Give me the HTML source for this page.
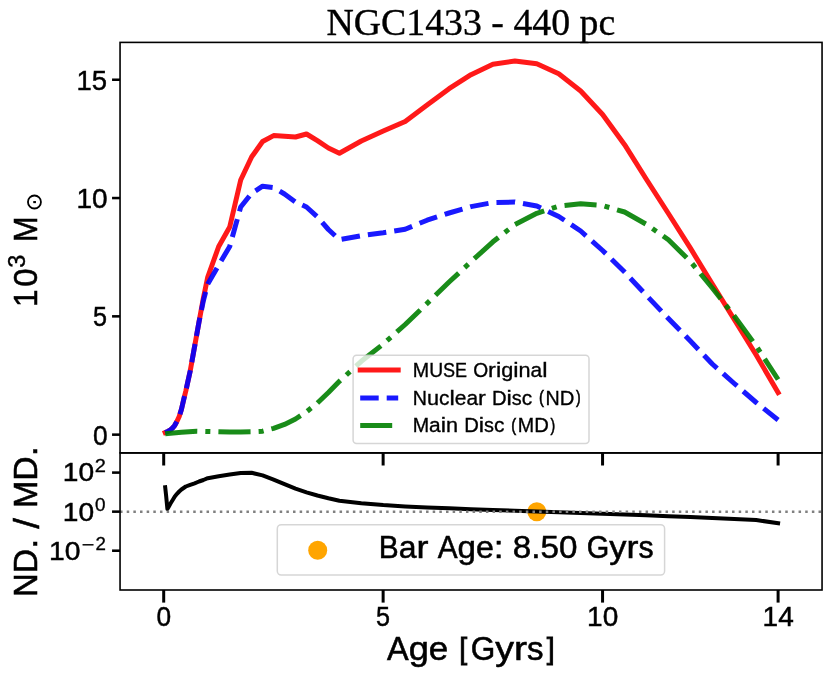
<!DOCTYPE html>
<html lang="en">
<head>
<meta charset="utf-8">
<title>NGC1433 - 440 pc</title>
<style>
html,body{margin:0;padding:0;background:#fff;}
body{width:831px;height:676px;overflow:hidden;font-family:"Liberation Sans",sans-serif;}
svg{display:block;will-change:transform;}
text{fill:#000;}
</style>
</head>
<body>
<svg width="831" height="676" viewBox="0 0 831 676">
<rect x="0" y="0" width="831" height="676" fill="#fff"/>
<defs><clipPath id="cT"><rect x="120.05" y="42.4" width="702.0" height="410.5"/></clipPath><clipPath id="cB"><rect x="120.05" y="452.9" width="702.0" height="137.1"/></clipPath></defs>
<g clip-path="url(#cT)" fill="none" stroke-width="5" stroke-linejoin="round">
<polyline points="165.20,432.50 168.30,431.20 170.50,429.80 172.70,427.80 174.80,425.30 177.00,421.30 179.20,416.50 181.40,409.50 183.60,400.00 185.80,391.00 190.20,371.00 194.60,346.50 199.00,322.00 203.40,298.00 207.75,277.00 218.70,246.50 229.70,227.00 240.70,180.00 251.60,157.00 262.60,141.50 273.60,135.60 284.50,136.30 295.50,137.00 306.50,134.00 317.40,140.70 328.40,148.00 339.40,153.20 361.30,141.00 383.25,131.00 405.20,121.50 427.10,105.00 449.10,88.70 471.00,74.70 492.90,64.20 514.90,61.00 536.80,63.80 558.75,73.80 580.70,91.00 602.60,114.50 624.60,144.70 646.50,179.50 668.40,213.50 690.40,248.20 712.30,284.00 734.25,319.50 756.20,355.00 778.10,392.50" stroke="#ff0000" stroke-opacity="0.9" stroke-linecap="square"/>
<polyline points="165.20,432.50 168.30,431.20 170.50,429.80 172.70,427.80 174.80,425.30 177.00,421.30 179.20,416.50 181.40,409.50 183.60,400.00 185.80,391.00 190.20,371.00 194.60,346.50 199.00,322.00 203.40,300.50 207.75,284.00 218.70,265.00 229.70,246.50 240.70,207.00 251.60,193.30 262.60,186.20 273.60,187.60 284.50,194.00 295.50,202.00 306.50,207.00 317.40,217.00 328.40,229.50 339.40,239.70 361.30,235.70 383.25,232.70 405.20,229.20 427.10,220.20 449.10,213.00 471.00,206.60 492.90,202.60 514.90,202.00 536.80,206.00 558.75,216.50 580.70,231.00 602.60,250.50 624.60,272.00 646.50,295.50 668.40,318.50 690.40,341.00 712.30,364.00 734.25,383.50 756.20,402.50 778.10,420.00" stroke="#0000ff" stroke-opacity="0.9" stroke-dasharray="18.6 8.045" stroke-dashoffset="2.2"/>
<polyline points="165.20,433.70 170.50,433.20 181.40,432.30 196.60,431.20 207.75,431.50 218.70,431.80 229.70,432.00 240.70,432.00 251.60,431.80 262.60,431.20 273.60,428.30 284.50,424.40 295.50,419.00 306.50,411.80 317.40,403.00 328.40,392.50 339.40,381.30 361.30,361.30 383.25,344.00 405.20,324.50 427.10,303.40 449.10,282.00 471.00,261.70 492.90,241.80 514.90,224.50 536.80,213.30 558.75,206.20 580.70,203.80 602.60,205.50 624.60,212.00 646.50,224.40 668.40,239.80 690.40,261.50 712.30,288.00 734.25,316.00 756.20,346.00 778.10,379.50" stroke="#008000" stroke-opacity="0.9" stroke-dasharray="32.18 8.05 5.03 8.05"/>
</g>
<g clip-path="url(#cB)" fill="none">
<circle cx="536.8" cy="511.7" r="9.5" fill="#ffa500"/>
<polyline points="165.20,487.20 166.10,495.50 167.40,509.00 168.30,507.50 170.50,503.50 172.70,500.00 174.80,496.50 177.00,493.80 179.20,491.50 181.40,489.50 183.60,488.00 185.80,486.50 190.20,484.80 194.60,483.30 199.00,481.50 203.40,480.00 207.75,478.20 218.70,476.20 229.70,474.60 240.70,473.00 251.60,472.80 262.60,475.40 273.60,479.60 284.50,484.20 295.50,488.60 306.50,492.30 317.40,495.50 328.40,498.30 339.40,500.80 361.30,503.20 383.25,505.10 405.20,506.40 427.10,507.50 449.10,508.30 471.00,509.20 492.90,510.00 514.90,510.80 536.80,511.50 558.75,512.30 580.70,513.10 602.60,513.80 624.60,514.50 646.50,515.30 668.40,516.20 690.40,517.00 712.30,518.00 734.25,519.00 756.20,520.00 778.10,523.30" stroke="#000" stroke-width="4" stroke-linejoin="round" stroke-linecap="square"/>
<line x1="120.05" y1="511.7" x2="822.05" y2="511.7" stroke="#808080" stroke-width="2.5" stroke-dasharray="2.51 4.142"/>
</g>
<g stroke="#000" fill="none">
<line x1="112.05" y1="434.65" x2="120.05" y2="434.65" stroke-width="2.55"/>
<line x1="112.05" y1="316.35" x2="120.05" y2="316.35" stroke-width="2.55"/>
<line x1="112.05" y1="198.05" x2="120.05" y2="198.05" stroke-width="2.55"/>
<line x1="112.05" y1="79.75" x2="120.05" y2="79.75" stroke-width="2.55"/>
<line x1="112.05" y1="472.60" x2="120.05" y2="472.60" stroke-width="2.55"/>
<line x1="112.05" y1="511.65" x2="120.05" y2="511.65" stroke-width="2.55"/>
<line x1="112.05" y1="550.70" x2="120.05" y2="550.70" stroke-width="2.55"/>
<line x1="163.70" y1="452.9" x2="163.70" y2="465.5" stroke-width="3"/>
<line x1="163.70" y1="590.0" x2="163.70" y2="602.6" stroke-width="3"/>
<line x1="383.13" y1="452.9" x2="383.13" y2="465.5" stroke-width="3"/>
<line x1="383.13" y1="590.0" x2="383.13" y2="602.6" stroke-width="3"/>
<line x1="602.56" y1="452.9" x2="602.56" y2="465.5" stroke-width="3"/>
<line x1="602.56" y1="590.0" x2="602.56" y2="602.6" stroke-width="3"/>
<line x1="778.10" y1="452.9" x2="778.10" y2="465.5" stroke-width="3"/>
<line x1="778.10" y1="590.0" x2="778.10" y2="602.6" stroke-width="3"/>
<rect x="120.05" y="42.4" width="702.0" height="410.5" stroke-width="1.6"/>
<rect x="120.05" y="452.9" width="702.0" height="137.1" stroke-width="1.6"/>
</g>
<rect x="353.1" y="355.2" width="235.9" height="88.2" rx="3.5" ry="3.5" fill="#fff" fill-opacity="0.8" stroke="#cccccc" stroke-opacity="0.8" stroke-width="1.5"/>
<line x1="360.2" y1="370.1" x2="398.2" y2="370.1" stroke="#ff0000" stroke-opacity="0.9" stroke-width="5" stroke-linecap="square"/>
<line x1="360.2" y1="398.0" x2="398.2" y2="398.0" stroke="#0000ff" stroke-opacity="0.9" stroke-width="5" stroke-dasharray="18.5 8"/>
<line x1="360.2" y1="425.6" x2="398.2" y2="425.6" stroke="#008000" stroke-opacity="0.9" stroke-width="5" stroke-dasharray="32 8 5 8"/>
<text font-family="Liberation Sans, sans-serif" font-size="20.1" stroke="#000" stroke-width="0.34"><tspan x="412.75" y="376.80" textLength="16.39" lengthAdjust="spacingAndGlyphs">M</tspan><tspan x="429.14" y="376.80" textLength="13.91" lengthAdjust="spacingAndGlyphs">U</tspan><tspan x="443.05" y="376.80" textLength="12.06" lengthAdjust="spacingAndGlyphs">S</tspan><tspan x="455.11" y="376.80" textLength="12.00" lengthAdjust="spacingAndGlyphs">E</tspan> <tspan x="473.15" y="376.80" textLength="14.96" lengthAdjust="spacingAndGlyphs">O</tspan><tspan x="488.11" y="376.80" textLength="7.81" lengthAdjust="spacingAndGlyphs">r</tspan><tspan x="495.92" y="376.80" textLength="5.28" lengthAdjust="spacingAndGlyphs">i</tspan><tspan x="501.20" y="376.80" textLength="12.06" lengthAdjust="spacingAndGlyphs">g</tspan><tspan x="513.26" y="376.80" textLength="5.28" lengthAdjust="spacingAndGlyphs">i</tspan><tspan x="518.54" y="376.80" textLength="12.04" lengthAdjust="spacingAndGlyphs">n</tspan><tspan x="530.58" y="376.80" textLength="11.64" lengthAdjust="spacingAndGlyphs">a</tspan><tspan x="542.22" y="376.80" textLength="5.28" lengthAdjust="spacingAndGlyphs">l</tspan></text>
<text font-family="Liberation Sans, sans-serif" font-size="20.1" stroke="#000" stroke-width="0.34"><tspan x="412.75" y="404.70" textLength="14.21" lengthAdjust="spacingAndGlyphs">N</tspan><tspan x="426.96" y="404.70" textLength="12.04" lengthAdjust="spacingAndGlyphs">u</tspan><tspan x="439.00" y="404.70" textLength="10.45" lengthAdjust="spacingAndGlyphs">c</tspan><tspan x="449.45" y="404.70" textLength="5.28" lengthAdjust="spacingAndGlyphs">l</tspan><tspan x="454.73" y="404.70" textLength="11.69" lengthAdjust="spacingAndGlyphs">e</tspan><tspan x="466.42" y="404.70" textLength="11.64" lengthAdjust="spacingAndGlyphs">a</tspan><tspan x="478.06" y="404.70" textLength="7.81" lengthAdjust="spacingAndGlyphs">r</tspan> <tspan x="491.91" y="404.70" textLength="14.63" lengthAdjust="spacingAndGlyphs">D</tspan><tspan x="506.54" y="404.70" textLength="5.28" lengthAdjust="spacingAndGlyphs">i</tspan><tspan x="511.82" y="404.70" textLength="9.90" lengthAdjust="spacingAndGlyphs">s</tspan><tspan x="521.72" y="404.70" textLength="10.45" lengthAdjust="spacingAndGlyphs">c</tspan> <tspan x="539.10" y="403.30" textLength="4.92" lengthAdjust="spacingAndGlyphs" font-size="18.1" stroke-width="0.6">(</tspan><tspan x="545.62" y="404.70" textLength="14.21" lengthAdjust="spacingAndGlyphs">N</tspan><tspan x="559.83" y="404.70" textLength="14.63" lengthAdjust="spacingAndGlyphs">D</tspan><tspan x="576.09" y="403.30" textLength="4.66" lengthAdjust="spacingAndGlyphs" font-size="18.1" stroke-width="0.6">)</tspan></text>
<text font-family="Liberation Sans, sans-serif" font-size="20.1" stroke="#000" stroke-width="0.34"><tspan x="412.75" y="432.40" textLength="16.39" lengthAdjust="spacingAndGlyphs">M</tspan><tspan x="429.14" y="432.40" textLength="11.64" lengthAdjust="spacingAndGlyphs">a</tspan><tspan x="440.78" y="432.40" textLength="5.28" lengthAdjust="spacingAndGlyphs">i</tspan><tspan x="446.06" y="432.40" textLength="12.04" lengthAdjust="spacingAndGlyphs">n</tspan> <tspan x="464.15" y="432.40" textLength="14.63" lengthAdjust="spacingAndGlyphs">D</tspan><tspan x="478.78" y="432.40" textLength="5.28" lengthAdjust="spacingAndGlyphs">i</tspan><tspan x="484.06" y="432.40" textLength="9.90" lengthAdjust="spacingAndGlyphs">s</tspan><tspan x="493.95" y="432.40" textLength="10.45" lengthAdjust="spacingAndGlyphs">c</tspan> <tspan x="511.34" y="431.00" textLength="4.92" lengthAdjust="spacingAndGlyphs" font-size="18.1" stroke-width="0.6">(</tspan><tspan x="517.85" y="432.40" textLength="16.39" lengthAdjust="spacingAndGlyphs">M</tspan><tspan x="534.25" y="432.40" textLength="14.63" lengthAdjust="spacingAndGlyphs">D</tspan><tspan x="550.50" y="431.00" textLength="4.66" lengthAdjust="spacingAndGlyphs" font-size="18.1" stroke-width="0.6">)</tspan></text>
<rect x="277.3" y="524.7" width="387.3" height="50.4" rx="4" ry="4" fill="#fff" fill-opacity="0.8" stroke="#cccccc" stroke-opacity="0.8" stroke-width="1.5"/>
<circle cx="317.7" cy="550.3" r="9.5" fill="#ffa500"/>
<text font-family="Liberation Sans, sans-serif" font-size="30.7" stroke="#000" stroke-width="0.52"><tspan x="378.77" y="558.10" textLength="19.93" lengthAdjust="spacingAndGlyphs">B</tspan><tspan x="398.70" y="558.10" textLength="17.80" lengthAdjust="spacingAndGlyphs">a</tspan><tspan x="416.50" y="558.10" textLength="11.94" lengthAdjust="spacingAndGlyphs">r</tspan> <tspan x="437.68" y="558.10" textLength="19.87" lengthAdjust="spacingAndGlyphs">A</tspan><tspan x="457.55" y="558.10" textLength="18.44" lengthAdjust="spacingAndGlyphs">g</tspan><tspan x="475.99" y="558.10" textLength="17.87" lengthAdjust="spacingAndGlyphs">e</tspan><tspan x="493.86" y="558.10" textLength="9.79" lengthAdjust="spacingAndGlyphs">:</tspan> <tspan x="512.89" y="558.10" textLength="18.48" lengthAdjust="spacingAndGlyphs">8</tspan><tspan x="531.37" y="558.10" textLength="9.23" lengthAdjust="spacingAndGlyphs">.</tspan><tspan x="540.60" y="558.10" textLength="18.48" lengthAdjust="spacingAndGlyphs">5</tspan><tspan x="559.09" y="558.10" textLength="18.48" lengthAdjust="spacingAndGlyphs">0</tspan> <tspan x="586.80" y="558.10" textLength="22.51" lengthAdjust="spacingAndGlyphs">G</tspan><tspan x="609.32" y="558.10" textLength="17.19" lengthAdjust="spacingAndGlyphs">y</tspan><tspan x="626.51" y="558.10" textLength="11.94" lengthAdjust="spacingAndGlyphs">r</tspan><tspan x="638.45" y="558.10" textLength="15.14" lengthAdjust="spacingAndGlyphs">s</tspan></text>
<text x="92.93" y="444.70" font-family="Liberation Sans, sans-serif" font-size="27.5" textLength="14.62" lengthAdjust="spacingAndGlyphs" stroke="#000" stroke-width="0.47" >0</text>
<text x="93.00" y="326.40" font-family="Liberation Sans, sans-serif" font-size="27.5" textLength="13.98" lengthAdjust="spacingAndGlyphs" stroke="#000" stroke-width="0.47" >5</text>
<text x="76.49" y="208.10" font-family="Liberation Sans, sans-serif" font-size="27.5" textLength="31.15" lengthAdjust="spacingAndGlyphs" stroke="#000" stroke-width="0.47" >10</text>
<text x="76.53" y="89.80" font-family="Liberation Sans, sans-serif" font-size="27.5" textLength="30.57" lengthAdjust="spacingAndGlyphs" stroke="#000" stroke-width="0.47" >15</text>
<text x="156.40" y="626.1" font-family="Liberation Sans, sans-serif" font-size="27.5" textLength="14.62" lengthAdjust="spacingAndGlyphs" stroke="#000" stroke-width="0.47" >0</text>
<text x="375.90" y="626.1" font-family="Liberation Sans, sans-serif" font-size="27.5" textLength="13.98" lengthAdjust="spacingAndGlyphs" stroke="#000" stroke-width="0.47" >5</text>
<text x="587.08" y="626.1" font-family="Liberation Sans, sans-serif" font-size="27.5" textLength="31.15" lengthAdjust="spacingAndGlyphs" stroke="#000" stroke-width="0.47" >10</text>
<text x="762.63" y="626.1" font-family="Liberation Sans, sans-serif" font-size="27.5" textLength="31.15" lengthAdjust="spacingAndGlyphs" stroke="#000" stroke-width="0.47" >14</text>
<text x="62.77" y="481.4" font-family="Liberation Sans, sans-serif" font-size="26.2" textLength="31.33" lengthAdjust="spacingAndGlyphs" stroke="#000" stroke-width="0.45" >10</text>
<text x="94.65" y="471.8" font-family="Liberation Sans, sans-serif" font-size="18.2" textLength="11.16" lengthAdjust="spacingAndGlyphs" stroke="#000" stroke-width="0.31" >2</text>
<text x="62.77" y="520.7" font-family="Liberation Sans, sans-serif" font-size="26.2" textLength="31.33" lengthAdjust="spacingAndGlyphs" stroke="#000" stroke-width="0.45" >10</text>
<text x="94.98" y="511.2" font-family="Liberation Sans, sans-serif" font-size="18.2" textLength="10.52" lengthAdjust="spacingAndGlyphs" stroke="#000" stroke-width="0.31" >0</text>
<text x="49.07" y="559.8" font-family="Liberation Sans, sans-serif" font-size="26.2" textLength="31.44" lengthAdjust="spacingAndGlyphs" stroke="#000" stroke-width="0.45" >10</text>
<text x="81.78" y="550.6" font-family="Liberation Sans, sans-serif" font-size="18.2" textLength="12.50" lengthAdjust="spacingAndGlyphs" stroke="#000" stroke-width="0.31" >−</text>
<text x="95.53" y="549.9" font-family="Liberation Sans, sans-serif" font-size="18.2" textLength="10.42" lengthAdjust="spacingAndGlyphs" stroke="#000" stroke-width="0.31" >2</text>
<text font-family="Liberation Sans, sans-serif" font-size="33.5" stroke="#000" stroke-width="0.57"><tspan x="387.06" y="660.00" textLength="21.65" lengthAdjust="spacingAndGlyphs">A</tspan><tspan x="408.71" y="660.00" textLength="20.09" lengthAdjust="spacingAndGlyphs">g</tspan><tspan x="428.80" y="660.00" textLength="19.47" lengthAdjust="spacingAndGlyphs">e</tspan> <tspan x="459.35" y="659.00" textLength="7.93" lengthAdjust="spacingAndGlyphs" font-size="30.2" stroke-width="0.9">[</tspan><tspan x="470.69" y="660.00" textLength="24.53" lengthAdjust="spacingAndGlyphs">G</tspan><tspan x="495.21" y="660.00" textLength="18.73" lengthAdjust="spacingAndGlyphs">y</tspan><tspan x="513.94" y="660.00" textLength="13.01" lengthAdjust="spacingAndGlyphs">r</tspan><tspan x="526.96" y="660.00" textLength="16.49" lengthAdjust="spacingAndGlyphs">s</tspan><tspan x="546.75" y="659.00" textLength="7.93" lengthAdjust="spacingAndGlyphs" font-size="30.2" stroke-width="0.9">]</tspan></text>
<g transform="translate(36.5,600) rotate(-90)">
<text font-family="Liberation Sans, sans-serif" font-size="33.5" stroke="#000" stroke-width="0.57"><tspan x="293.01" y="0" font-size="33.5" textLength="17.66" lengthAdjust="spacingAndGlyphs">1</tspan><tspan x="313.15" y="0" font-size="33.5" textLength="18.33" lengthAdjust="spacingAndGlyphs">0</tspan><tspan stroke-width="0.4"><tspan x="332.30" y="-12.0" font-size="23.8" textLength="12.99" lengthAdjust="spacingAndGlyphs">3</tspan></tspan> <tspan x="357.97" y="0" font-size="33.5" textLength="25.48" lengthAdjust="spacingAndGlyphs">M</tspan></text>
<circle cx="398.0" cy="-2.05" r="6.5" fill="none" stroke="#000" stroke-width="1.8"/><rect x="396.85" y="-3.25" width="2.1" height="2.7" fill="#000"/>
<text font-family="Liberation Sans, sans-serif" font-size="33.5" stroke="#000" stroke-width="0.57"><tspan x="3.11" y="0.00" textLength="23.68" lengthAdjust="spacingAndGlyphs">N</tspan><tspan x="26.79" y="0.00" textLength="24.37" lengthAdjust="spacingAndGlyphs">D</tspan><tspan x="51.16" y="0.00" textLength="10.06" lengthAdjust="spacingAndGlyphs">.</tspan> <tspan x="71.28" y="2.65" textLength="10.66" lengthAdjust="spacingAndGlyphs" font-size="35.5">/</tspan> <tspan x="92.01" y="0.00" textLength="27.31" lengthAdjust="spacingAndGlyphs">M</tspan><tspan x="119.32" y="0.00" textLength="24.37" lengthAdjust="spacingAndGlyphs">D</tspan><tspan x="143.69" y="0.00" textLength="10.06" lengthAdjust="spacingAndGlyphs">.</tspan></text>
</g>
<text x="326.47" y="35.1" font-family="Liberation Serif, serif" font-size="37.6" textLength="288.81" lengthAdjust="spacingAndGlyphs" stroke="#000" stroke-width="0.35" >NGC1433 - 440 pc</text>
</svg>
</body>
</html>
